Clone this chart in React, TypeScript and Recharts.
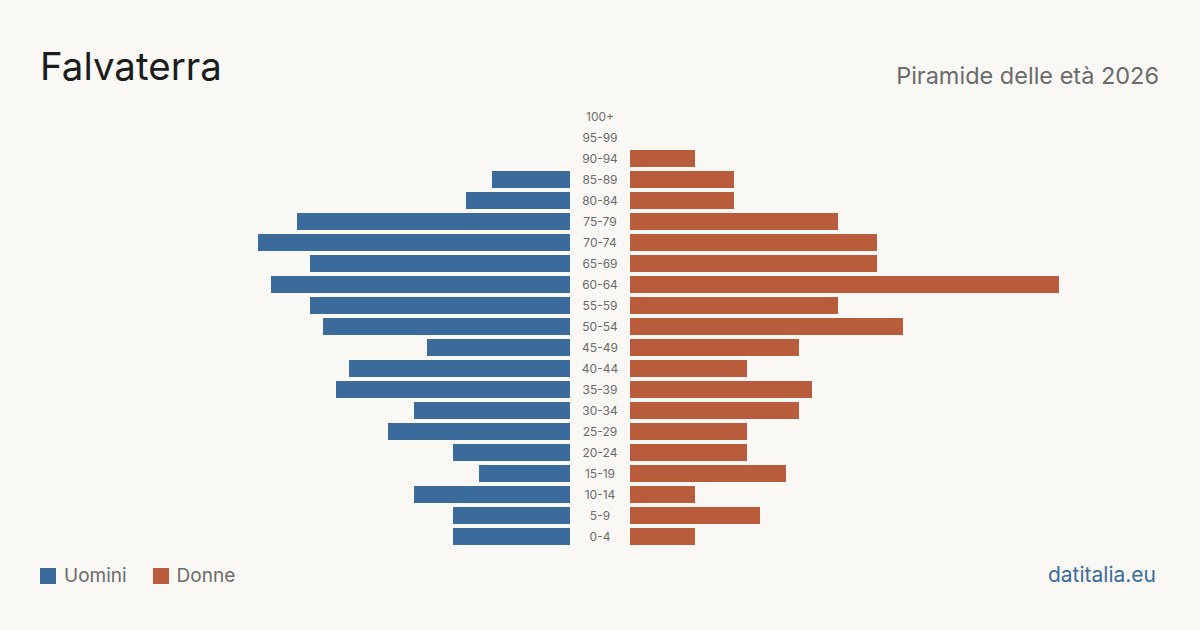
import React from 'react';
import { BarChart, Bar, XAxis, YAxis } from 'recharts';

// Age classes, top to bottom
const ageClasses = [
  '100+', '95-99', '90-94', '85-89', '80-84', '75-79', '70-74', '65-69', '60-64', '55-59',
  '50-54', '45-49', '40-44', '35-39', '30-34', '25-29', '20-24', '15-19', '10-14', '5-9', '0-4',
];
const uomini = [0, 0, 0, 6, 8, 21, 24, 20, 23, 20, 19, 11, 17, 18, 12, 14, 9, 7, 12, 9, 9];
const donne = [0, 0, 5, 8, 8, 16, 19, 19, 33, 16, 21, 13, 9, 14, 13, 9, 9, 12, 5, 10, 5];

const COLORS = {
  bg: '#f9f8f4',
  blue: '#3b6b9b',
  red: '#b95c3c',
  title: '#1c1c1c',
  muted: '#6b6b6b',
};

const FONT = 'Inter, "Noto Sans", sans-serif';
const X_MAX = 40.77;

const rows = ageClasses.map((age, i) => ({ age, uomini: uomini[i], donne: donne[i] }));

const AgeTick = (props: any) => {
  const { y, payload } = props;
  return (
    <text
      x={30}
      y={y}
      textAnchor="middle"
      dominantBaseline="central"
      fontSize={12}
      fill={COLORS.muted}
      fontFamily={FONT}
    >
      {payload.value}
    </text>
  );
};

export default function App() {
  return (
    <div
      style={{
        position: 'absolute',
        left: 0,
        top: 0,
        width: 1200,
        height: 630,
        background: COLORS.bg,
        fontFamily: FONT,
        overflow: 'hidden',
      }}
    >
      <div style={{ position: 'absolute', left: 40, top: 42, fontSize: 38.5, color: COLORS.title, lineHeight: '48px' }}>
        Falvaterra
      </div>
      <div style={{ position: 'absolute', right: 41, top: 61, fontSize: 23.5, color: COLORS.muted, lineHeight: '30px' }}>
        Piramide delle età 2026
      </div>

      {/* men, growing to the left */}
      <div style={{ position: 'absolute', left: 40, top: 106 }}>
        <BarChart width={530} height={441} data={rows} layout="vertical" margin={{ top: 0, right: 0, bottom: 0, left: 0 }}>
          <XAxis type="number" domain={[0, X_MAX]} reversed hide />
          <YAxis type="category" dataKey="age" hide />
          <Bar dataKey="uomini" fill={COLORS.blue} barSize={17} isAnimationActive={false} />
        </BarChart>
      </div>

      {/* women, growing to the right, with the age labels in the gap */}
      <div style={{ position: 'absolute', left: 570, top: 106 }}>
        <BarChart width={590} height={441} data={rows} layout="vertical" margin={{ top: 0, right: 0, bottom: 0, left: 0 }}>
          <XAxis type="number" domain={[0, X_MAX]} hide />
          <YAxis
            type="category"
            dataKey="age"
            width={60}
            axisLine={false}
            tickLine={false}
            tick={<AgeTick />}
            interval={0}
          />
          <Bar dataKey="donne" fill={COLORS.red} barSize={17} isAnimationActive={false} />
        </BarChart>
      </div>

      <div style={{ position: 'absolute', left: 40, top: 564, display: 'flex', alignItems: 'center', fontSize: 19, color: COLORS.muted, lineHeight: '24px' }}>
        <span style={{ width: 16, height: 16, background: COLORS.blue, display: 'inline-block', marginRight: 8 }} />
        <span style={{ marginRight: 26 }}>Uomini</span>
        <span style={{ width: 16, height: 16, background: COLORS.red, display: 'inline-block', marginRight: 8 }} />
        <span>Donne</span>
      </div>
      <div style={{ position: 'absolute', right: 44, top: 562, fontSize: 21, color: COLORS.blue, lineHeight: '26px' }}>
        datitalia.eu
      </div>
    </div>
  );
}
